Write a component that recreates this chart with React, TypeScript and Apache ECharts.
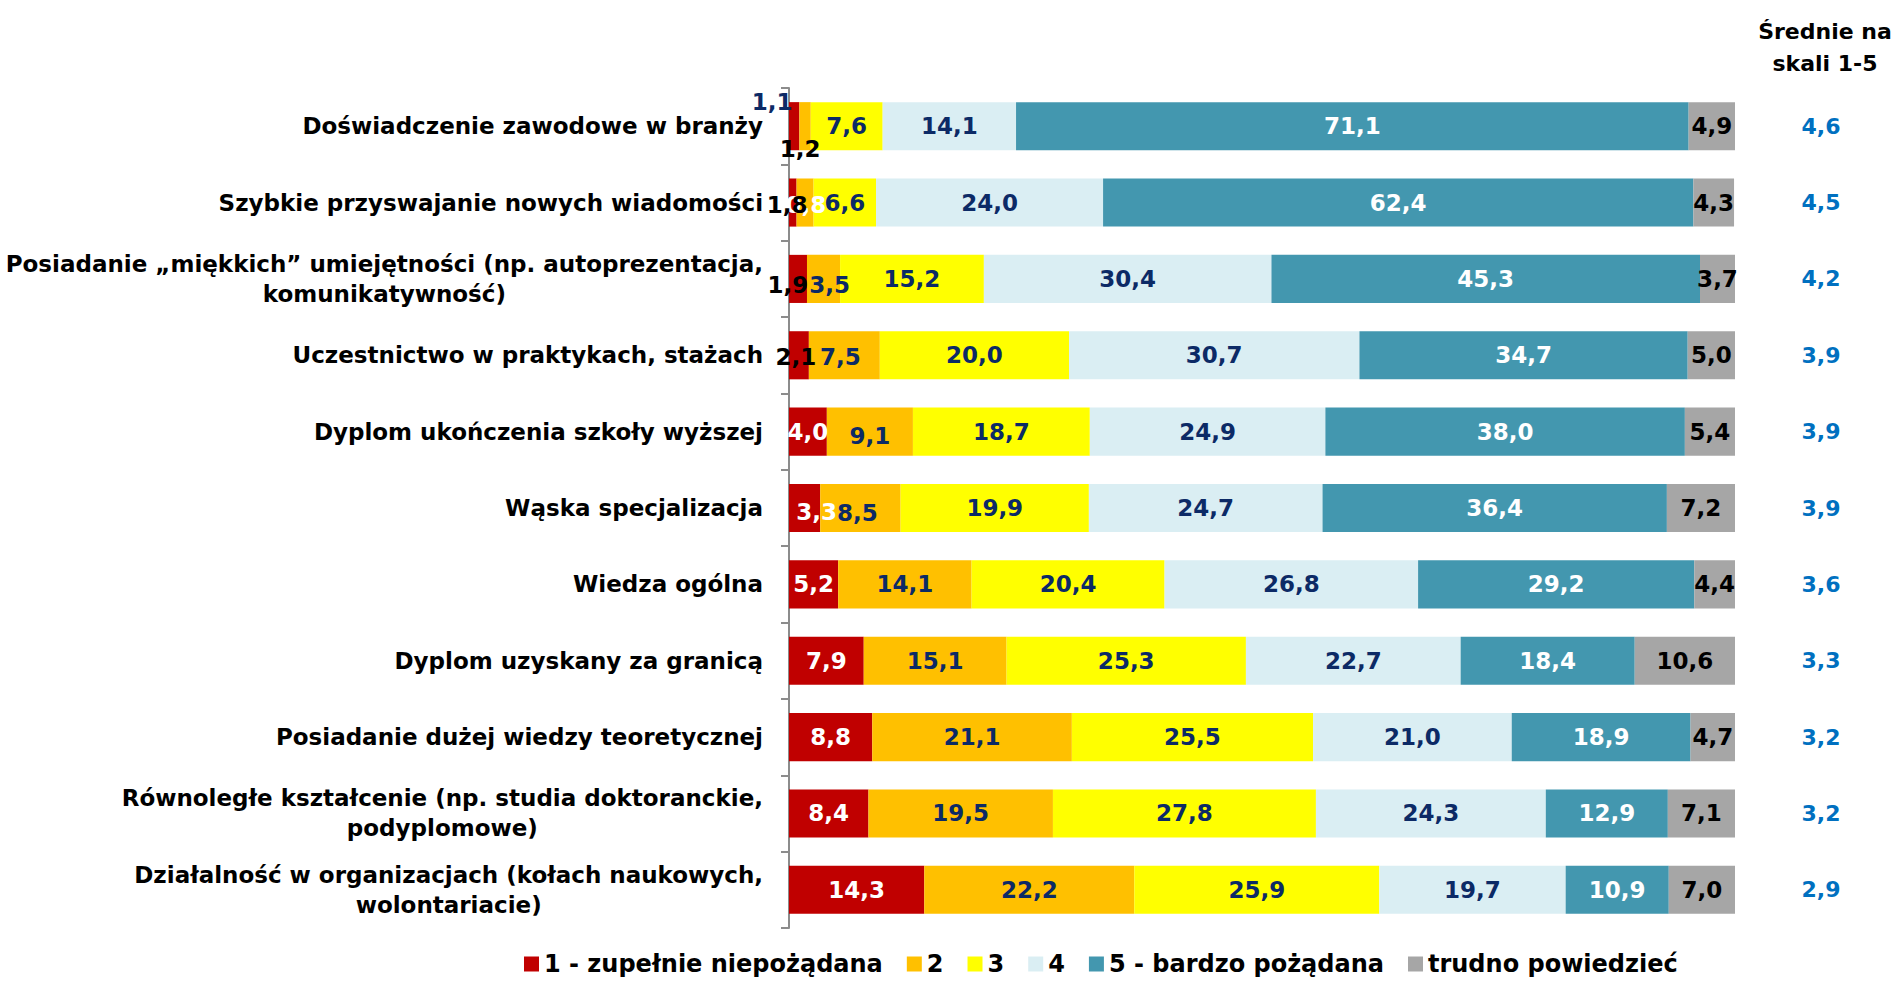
import React, { useEffect, useRef } from "react";
import * as echarts from "echarts";

const categories = [
  "Doświadczenie zawodowe w branży",
  "Szybkie przyswajanie nowych wiadomości",
  "Posiadanie „miękkich” umiejętności (np. autoprezentacja,\nkomunikatywność)",
  "Uczestnictwo w praktykach, stażach",
  "Dyplom ukończenia szkoły wyższej",
  "Wąska specjalizacja",
  "Wiedza ogólna",
  "Dyplom uzyskany za granicą",
  "Posiadanie dużej wiedzy teoretycznej",
  "Równoległe kształcenie (np. studia doktoranckie,\npodyplomowe)",
  "Działalność w organizacjach (kołach naukowych,\nwolontariacie)",
];

const seriesNames = ["1 - zupełnie niepożądana", "2", "3", "4", "5 - bardzo pożądana", "trudno powiedzieć"];

const s1 = [1.1, 0.8, 1.9, 2.1, 4.0, 3.3, 5.2, 7.9, 8.8, 8.4, 14.3];
const s2 = [1.2, 1.8, 3.5, 7.5, 9.1, 8.5, 14.1, 15.1, 21.1, 19.5, 22.2];
const s3 = [7.6, 6.6, 15.2, 20.0, 18.7, 19.9, 20.4, 25.3, 25.5, 27.8, 25.9];
const s4 = [14.1, 24.0, 30.4, 30.7, 24.9, 24.7, 26.8, 22.7, 21.0, 24.3, 19.7];
const s5 = [71.1, 62.4, 45.3, 34.7, 38.0, 36.4, 29.2, 18.4, 18.9, 12.9, 10.9];
const s6 = [4.9, 4.3, 3.7, 5.0, 5.4, 7.2, 4.4, 10.6, 4.7, 7.1, 7.0];
const means = [4.6, 4.5, 4.2, 3.9, 3.9, 3.9, 3.6, 3.3, 3.2, 3.2, 2.9];

const colors = ["#C00000", "#FFC000", "#FFFF00", "#DAEEF3", "#4397AF", "#A6A6A6"];
const NAVY = "#0C2A66";
const labelColors = ["#FFFFFF", NAVY, NAVY, NAVY, "#FFFFFF", "#000000"];

// per-point label overrides: [seriesIndex][rowIndex]
const overrides: Record<string, { color?: string; offset?: number[] }> = {
  "0-0": { color: NAVY, offset: [-22, -24] },
  "1-0": { color: "#000000", offset: [-5, 23] },
  "0-1": { color: "#FFFFFF", offset: [13, 2] },
  "1-1": { color: "#000000", offset: [-18, 2] },
  "0-2": { color: "#000000", offset: [-10, 6] },
  "1-2": { offset: [6, 6] },
  "0-3": { color: "#000000", offset: [-3, 2] },
  "1-3": { offset: [-4, 2] },
  "1-4": { offset: [0, 4] },
  "0-5": { offset: [12, 4] },
  "1-5": { offset: [-3, 5] },
};

const FONT = "DejaVu Sans";
const fmt = (v: number) => v.toFixed(1).replace(".", ",");

export default function App() {
  const ref = useRef<HTMLDivElement>(null);
  useEffect(() => {
    document.body.style.margin = "0";
    const chart = echarts.init(ref.current!, null, { renderer: "svg" });
    const all = [s1, s2, s3, s4, s5, s6];
    const series = all.map((arr, si) => ({
      name: seriesNames[si],
      type: "bar",
      stack: "total",
      barCategoryGap: "37%",
      itemStyle: { color: colors[si] },
      label: {
        show: true,
        position: "inside",
        color: labelColors[si],
        fontFamily: FONT,
        fontWeight: "bold",
        fontSize: 23,
        formatter: (p: any) => fmt(p.value),
      },
      data: arr.map((v, ri) => {
        const o = overrides[`${si}-${ri}`];
        return o ? { value: v, label: { ...(o.color ? { color: o.color } : {}), ...(o.offset ? { offset: o.offset } : {}) } } : v;
      }),
    }));
    chart.setOption({
      animation: false,
      title: {
        text: "Średnie na\nskali 1-5",
        left: 1820,
        top: 10,
        textAlign: "center",
        textStyle: { fontFamily: FONT, fontWeight: "bold", fontSize: 22, color: "#000", lineHeight: 32 },
      },
      grid: { left: 789, right: 158, top: 88, bottom: 53, containLabel: false },
      legend: {
        left: 519,
        top: 947,
        itemWidth: 15,
        itemHeight: 15,
        itemGap: 24,
        icon: "rect",
        textStyle: { fontFamily: FONT, fontWeight: "bold", fontSize: 24, color: "#000" },
        data: seriesNames,
      },
      xAxis: { type: "value", min: 0, max: 100, show: false },
      yAxis: [
        {
          type: "category",
          inverse: true,
          data: categories,
          axisLine: { show: true, lineStyle: { color: "#8C8C8C", width: 2 } },
          axisTick: { show: true, length: 8, lineStyle: { color: "#8C8C8C", width: 2 } },
          axisLabel: {
            margin: 26,
            formatter: (v: string) => v.split("\n").map((l) => `{c|${l}}`).join("\n"),
            rich: {
              c: { align: "center", fontFamily: FONT, fontWeight: "bold", fontSize: 23, color: "#000", lineHeight: 30 },
            },
          },
        },
        {
          type: "category",
          inverse: true,
          position: "right",
          data: means.map(fmt),
          axisLine: { show: false },
          axisTick: { show: false },
          axisLabel: { margin: 86, align: "center", fontFamily: FONT, fontWeight: "bold", fontSize: 22, color: "#0070C0" },
        },
      ],
      series,
    });
    return () => chart.dispose();
  }, []);
  return <div ref={ref} style={{ width: 1893, height: 981 }} />;
}
